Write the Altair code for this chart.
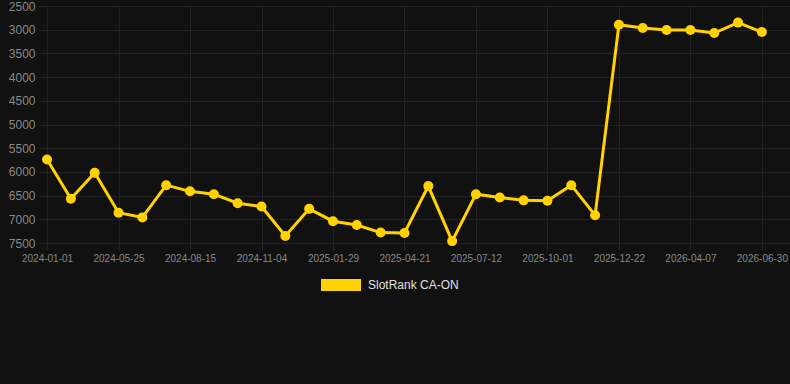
import altair as alt
import pandas as pd

ranks = [5740, 6565, 6020, 6860, 6960, 6280, 6410, 6470, 6660, 6730,
         7350, 6780, 7040, 7120, 7280, 7290, 6300, 7460, 6470, 6540,
         6600, 6610, 6280, 6915, 2895, 2965, 3005, 3005, 3070, 2850, 3050]
tick_labels = ["2024-01-01", "2024-05-25", "2024-08-15", "2024-11-04", "2025-01-29",
               "2025-04-21", "2025-07-12", "2025-10-01", "2025-12-22", "2026-04-07",
               "2026-06-30"]
series_name = "SlotRank CA-ON"

df = pd.DataFrame({
    "idx": list(range(len(ranks))),
    "rank": ranks,
    "series": [series_name] * len(ranks),
})

label_arr = "[" + ",".join(f"'{t}'" for t in tick_labels) + "]"

x = alt.X("idx:Q",
          scale=alt.Scale(domain=[-0.38, 31.18], nice=False, zero=False),
          axis=alt.Axis(values=list(range(0, 31, 3)),
                        labelExpr=f"{label_arr}[round(datum.value/3)]",
                        title=None, labelFontSize=10, labelColor="#888888",
                        labelFont="Liberation Sans", tickColor="#262626",
                        tickSize=7, labelPadding=3, domain=False,
                        grid=True, gridColor="#222222", labelOverlap=False))
y = alt.Y("rank:Q",
          scale=alt.Scale(domain=[2500, 7500], reverse=True, nice=False, zero=False),
          axis=alt.Axis(values=list(range(2500, 7501, 500)), title=None, format="d",
                        labelFontSize=12, labelColor="#888888",
                        labelFont="Liberation Sans", ticks=False, labelPadding=3,
                        domain=False, grid=True, gridColor="#222222"))
color = alt.Color("series:N",
                  scale=alt.Scale(range=["#FFD200"]),
                  legend=alt.Legend(title=None, orient="none", legendX=283, legendY=259,
                                    symbolType="M-1,-0.3L1,-0.3L1,0.3L-1,0.3Z",
                                    symbolSize=1600, symbolStrokeWidth=0,
                                    symbolFillColor="#FFD200",
                                    labelFontSize=12, labelColor="#e0e0e0",
                                    labelFont="Liberation Sans", labelOffset=7))

base = alt.Chart(df)
line = base.mark_line(strokeWidth=3).encode(x=x, y=y, color=color)
pts = base.mark_circle(size=100, opacity=1).encode(x=x, y=y, color=alt.Color("series:N", scale=alt.Scale(range=["#FFD200"]), legend=None))

chart = (line + pts).properties(
    width=752, height=237,
    background="#111111",
    autosize=alt.AutoSizeParams(type="none"),
    padding={"left": 38, "top": 6, "right": 0, "bottom": 141},
).configure_view(stroke=None)

chart.save("out.html", embed_options={"renderer": "svg", "actions": False})
